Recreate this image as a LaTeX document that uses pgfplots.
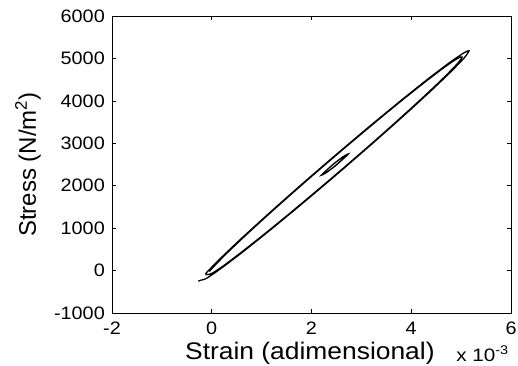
\documentclass[border=0pt]{standalone}
\usepackage{fontspec}
\setmainfont{Liberation Sans}
\newfontfamily\labfont[FakeStretch=1.1]{Liberation Sans}
\usepackage{pgfplots}
\pgfplotsset{compat=1.18}

\begin{document}
\begin{tikzpicture}
\begin{axis}[
  at={(0,0)}, anchor=south west,
  scale only axis, width=399pt, height=297pt,
  xmin=-2, xmax=6, ymin=-1000, ymax=6000,
  xtick={-2,0,2,4,6}, xticklabels={-2,0,2,4,6},
  ytick={-1000,0,1000,2000,3000,4000,5000,6000},
  yticklabels={-1000,0,1000,2000,3000,4000,5000,6000},
  tick align=inside, tick pos=both,
  major tick length=4pt,
  tick label style={font=\fontsize{18}{21}\selectfont},
  xticklabel style={anchor=base, inner sep=0pt, yshift=-21pt, xscale=1.1},
  yticklabel style={anchor=east, inner sep=0pt, xshift=-7pt, xscale=1.1},
  xlabel={Strain (adimensional)},
  xlabel style={at={(axis description cs:0.496,-0.158)}, anchor=base, inner sep=0pt, font=\labfont\fontsize{24}{28}\selectfont},
  ylabel={Stress (N/m\textsuperscript{2})},
  ylabel style={at={(axis description cs:-0.1905,0.5)}, anchor=base, inner sep=0pt, font=\fontsize{24}{28}\selectfont},
  axis line style={black, line width=0.7pt},
  every tick/.style={black, line width=0.7pt},
  clip=false,
]
% main hysteresis loop
\addplot[black, line width=1.3pt, smooth, tension=0.4] coordinates {
  (-0.27,-250) (-0.21,-223) (-0.119,-193) (0.149,18) (0.575,396) (1.13,915)
  (1.776,1541) (2.47,2230) (3.164,2935) (3.81,3609) (4.365,4204) (4.791,4682)
  (5.059,5009) (5.16,5180) (5.059,5133) (4.791,4922) (4.365,4544) (3.81,4025)
  (3.164,3399) (2.47,2710) (1.776,2005) (1.13,1331) (0.575,736) (0.149,258)
  (-0.119,-69) (-0.08,-93) (0.007,-64) (0.262,137) (0.667,499) (1.195,993)
  (1.81,1590) (2.47,2245) (3.13,2916) (3.745,3557) (4.273,4123) (4.678,4577)
  (4.933,4888) (5.02,5033) (4.933,5004) (4.678,4803) (4.273,4441) (3.745,3947)
  (3.13,3350) (2.47,2695) (1.81,2024) (1.195,1383) (0.667,817) (0.262,363)
  (0.007,52) (-0.05,-20)
};
% small inner loop
\addplot[black, line width=1.3pt, smooth, tension=0.4] coordinates {
  (2.74,2750) (2.661,2700) (2.47,2540) (2.279,2340) (2.20,2250) (2.279,2295)
  (2.47,2460) (2.661,2660) (2.74,2750) (2.64,2690) (2.45,2520) (2.26,2320)
  (2.24,2280) (2.30,2310) (2.48,2475) (2.70,2700)
};
\node[anchor=base west, inner sep=0pt, font=\fontsize{18}{21}\selectfont, xscale=1.15]
  at (rel axis cs:0.8622,-0.1616) {x 10\textsuperscript{-3}};
\end{axis}
\pgfresetboundingbox
\path (-112pt,-52pt) rectangle (406pt,313pt);
\end{tikzpicture}
\end{document}
